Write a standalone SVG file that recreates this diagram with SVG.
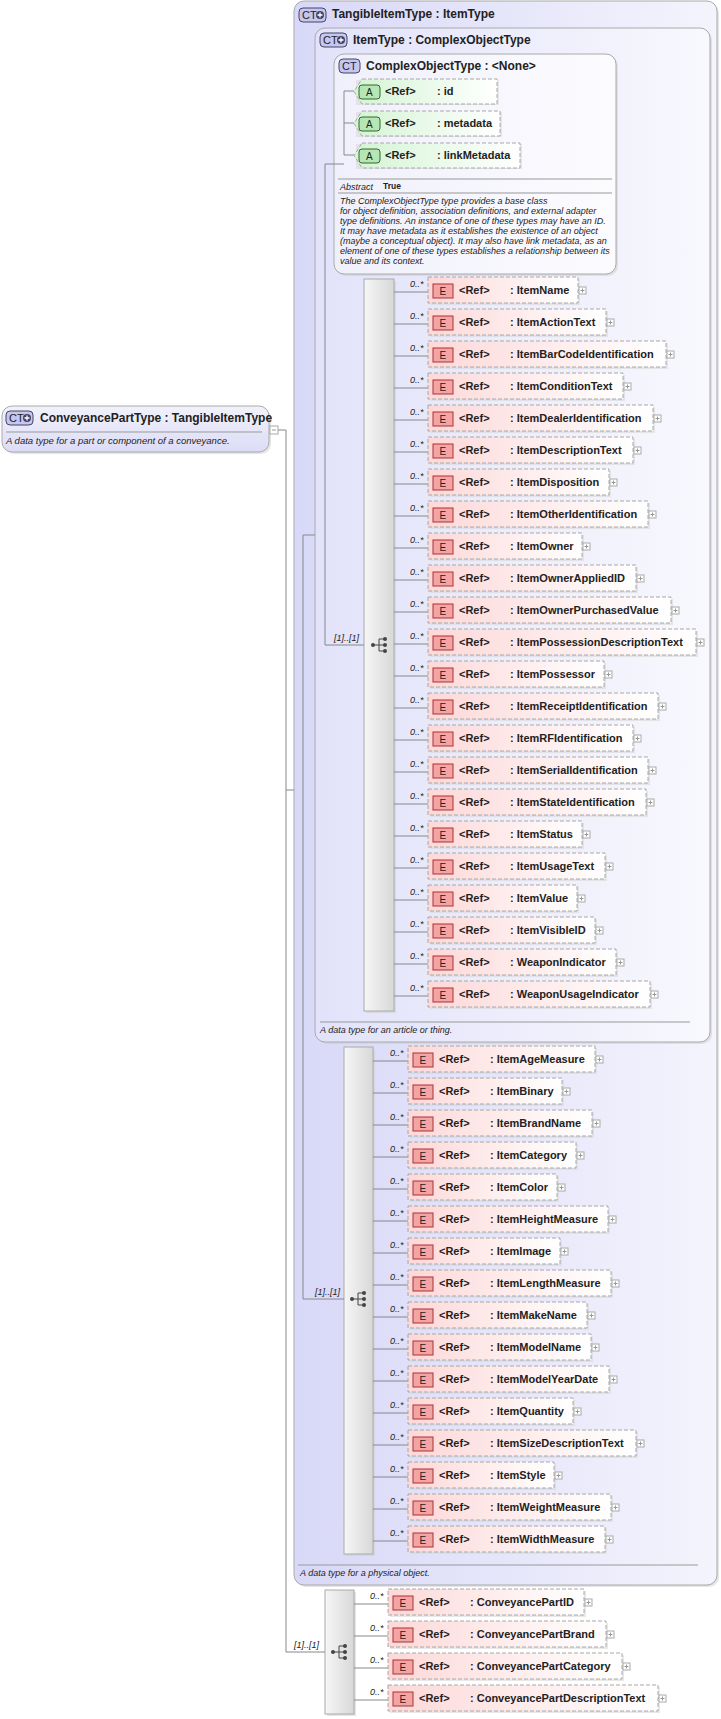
<svg xmlns="http://www.w3.org/2000/svg" width="721" height="1719" viewBox="0 0 721 1719">
<defs>
<linearGradient id="gCT" x1="0" y1="0" x2="1" y2="0"><stop offset="0" stop-color="#d8d8f8"/><stop offset="1" stop-color="#f4f4fd"/></linearGradient>
<linearGradient id="gCT2" x1="0" y1="0" x2="1" y2="0"><stop offset="0" stop-color="#e2e2fa"/><stop offset="1" stop-color="#f8f8fe"/></linearGradient>
<linearGradient id="gCO" x1="0" y1="0" x2="1" y2="0"><stop offset="0" stop-color="#f0f0fc"/><stop offset="1" stop-color="#fcfcff"/></linearGradient>
<linearGradient id="gE" x1="0" y1="0" x2="1" y2="0"><stop offset="0" stop-color="#fdd8d8"/><stop offset="1" stop-color="#ffffff"/></linearGradient>
<linearGradient id="gA" x1="0" y1="0" x2="1" y2="0"><stop offset="0" stop-color="#d4f4d4"/><stop offset="1" stop-color="#ffffff"/></linearGradient>
<linearGradient id="gS" x1="0" y1="0" x2="1" y2="0"><stop offset="0" stop-color="#f6f6f6"/><stop offset="1" stop-color="#d8d8d8"/></linearGradient>
<linearGradient id="gLeft" x1="0" y1="0" x2="0" y2="1"><stop offset="0" stop-color="#f2f2fc"/><stop offset="1" stop-color="#dcdcf6"/></linearGradient>
<g id="seqicon"><circle cx="-7" cy="0" r="2" fill="#444"/><path d="M-7 0H-1M-1-6V6M-1-6H4M-1 0H4M-1 6H4" stroke="#444" fill="none"/><circle cx="5" cy="-6" r="2" fill="#444"/><circle cx="5" cy="0" r="2" fill="#444"/><circle cx="5" cy="6" r="2" fill="#444"/></g>
<g id="ctplus"><rect x="0" y="0" width="27" height="14" rx="4" fill="#c6c6ee" stroke="#446"/><text x="3" y="11" font-size="11" fill="#224">CT</text><circle cx="21" cy="7" r="4" fill="#446"/><path d="M18.5 7H23.5M21 4.5V9.5" stroke="#fff" stroke-width="1.3"/></g>
</defs>
<style>
text{font-family:"Liberation Sans",Arial,sans-serif;fill:#222}
.t{font-size:12px;font-weight:bold}
.n{font-size:11px;font-weight:bold}
.d{font-size:9.5px;font-style:italic}
.m{font-size:9px;font-style:italic}
.ebox{fill:url(#gE);stroke:#a8a8a8;stroke-dasharray:4 2}
.abox{fill:url(#gA);stroke:#a8a8a8;stroke-dasharray:4 2}
.sh{fill:#d8d8d8;opacity:.6}
.ei{fill:#f4a4a4;stroke:#a33}
.ai{fill:#b6e6b6;stroke:#363}
.pl{fill:#fff;stroke:#aaa}
.pp{stroke:#999}
.c{stroke:#888;fill:none}
.ict{fill:#c6c6ee;stroke:#446}
.it{font-size:11px;fill:#224}
</style>

<g id="TangibleItemType">
<rect x="296" y="3" width="423" height="1584" rx="10" fill="#ccc" opacity=".5"/>
<rect x="294" y="1" width="423" height="1584" rx="10" fill="url(#gCT)" stroke="#aaa"/>
<use href="#ctplus" x="299" y="8"/>
<text x="332" y="18" class="t">TangibleItemType : ItemType</text>
<line x1="298" y1="1565" x2="698" y2="1565" stroke="#999"/>
<text x="300" y="1576" class="m">A data type for a physical object.</text>
</g>

<g id="ItemType">
<rect x="317" y="30" width="395" height="1014" rx="10" fill="#ccc" opacity=".5"/>
<rect x="315" y="28" width="395" height="1014" rx="10" fill="url(#gCT2)" stroke="#aaa"/>
<use href="#ctplus" x="320" y="33"/>
<text x="353" y="44" class="t">ItemType : ComplexObjectType</text>
<line x1="320" y1="1022" x2="690" y2="1022" stroke="#999"/>
<text x="320" y="1033" class="m">A data type for an article or thing.</text>
</g>

<g id="ComplexObjectType">
<rect x="336" y="56" width="282" height="220" rx="10" fill="#ccc" opacity=".5"/>
<rect x="334" y="54" width="282" height="220" rx="10" fill="url(#gCO)" stroke="#aaa"/>
<rect x="339" y="59" width="21" height="14" rx="4" class="ict"/><text x="342" y="70" class="it">CT</text>
<text x="366" y="70" class="t">ComplexObjectType : &lt;None&gt;</text>
<line x1="338" y1="179" x2="612" y2="179" stroke="#999"/>
<text x="340" y="190" class="m">Abstract</text><text x="383" y="189" font-size="8.5" font-weight="bold">True</text>
<line x1="338" y1="193" x2="612" y2="193" stroke="#999"/>
<text class="m"><tspan x="340" y="204">The ComplexObjectType type provides a base class</tspan><tspan x="340" y="214">for object definition, association definitions, and external adapter</tspan><tspan x="340" y="224">type definitions. An instance of one of these types may have an ID.</tspan><tspan x="340" y="234">It may have metadata as it establishes the existence of an object</tspan><tspan x="340" y="244">(maybe a conceptual object). It may also have link metadata, as an</tspan><tspan x="340" y="254">element of one of these types establishes a relationship between its</tspan><tspan x="340" y="264">value and its context.</tspan></text>
</g>

<g id="attr-id"><rect x="356" y="80" width="143" height="25" class="sh"/><path d="M362 79H497V104H362L354 91.5Z" class="abox"/><rect x="359" y="85" width="21" height="14" rx="3" class="ai"/><text x="366" y="96" font-size="10">A</text><text x="385" y="95" class="n">&lt;Ref&gt;</text><text x="437" y="95" class="n">: id</text></g>
<g id="attr-metadata"><rect x="356" y="112" width="146" height="25" class="sh"/><path d="M362 111H500V136H362L354 123.5Z" class="abox"/><rect x="359" y="117" width="21" height="14" rx="3" class="ai"/><text x="366" y="128" font-size="10">A</text><text x="385" y="127" class="n">&lt;Ref&gt;</text><text x="437" y="127" class="n">: metadata</text></g>
<g id="attr-linkMetadata"><rect x="356" y="144" width="166" height="25" class="sh"/><path d="M362 143H520V168H362L354 155.5Z" class="abox"/><rect x="359" y="149" width="21" height="14" rx="3" class="ai"/><text x="366" y="160" font-size="10">A</text><text x="385" y="159" class="n">&lt;Ref&gt;</text><text x="437" y="159" class="n">: linkMetadata</text></g>

<g id="ConveyancePartType">
<rect x="4" y="408" width="267" height="46" rx="10" fill="#ccc" opacity=".5"/>
<rect x="2" y="406" width="267" height="46" rx="10" fill="url(#gLeft)" stroke="#aaa"/>
<use href="#ctplus" x="6" y="411"/>
<text x="40" y="422" class="t">ConveyancePartType : TangibleItemType</text>
<line x1="6" y1="432" x2="262" y2="432" stroke="#999"/>
<text x="6" y="444" class="d">A data type for a part or component of a conveyance.</text>
<rect x="270" y="426" width="8" height="8" class="pl"/><path d="M272 430H276" class="pp"/>
</g>

<g id="seq1"><rect x="366" y="281" width="30" height="732" fill="#ccc" opacity=".5"/><rect x="364" y="279" width="30" height="732" fill="url(#gS)" stroke="#aaa"/><use href="#seqicon" x="380" y="645"/></g>
<g id="seq2"><rect x="346" y="1049" width="29" height="507" fill="#ccc" opacity=".5"/><rect x="344" y="1047" width="29" height="507" fill="url(#gS)" stroke="#aaa"/><use href="#seqicon" x="359" y="1299"/></g>
<g id="seq3"><rect x="327" y="1592" width="29" height="124" fill="#ccc" opacity=".5"/><rect x="325" y="1590" width="29" height="124" fill="url(#gS)" stroke="#aaa"/><use href="#seqicon" x="340" y="1652"/></g>

<g id="connectors">
<path class="c" d="M278 430H286V1652H325M286 790H294"/>
<path class="c" d="M303 535H315M303 535V1299H344"/>
<path class="c" d="M325 164H344M344 91V155M344 91H354M344 123H354M344 155H354M325 164V645H364"/>
<text x="334" y="641" class="m">[1]..[1]</text>
<text x="315" y="1295" class="m">[1]..[1]</text>
<text x="294" y="1648" class="m">[1]..[1]</text>
<path class="c" d="M394 292H428M394 324H428M394 356H428M394 388H428M394 420H428M394 452H428M394 484H428M394 516H428M394 548H428M394 580H428M394 612H428M394 644H428M394 676H428M394 708H428M394 740H428M394 772H428M394 804H428M394 836H428M394 868H428M394 900H428M394 932H428M394 964H428M394 996H428"/>
<path class="c" d="M373 1061H408M373 1093H408M373 1125H408M373 1157H408M373 1189H408M373 1221H408M373 1253H408M373 1285H408M373 1317H408M373 1349H408M373 1381H408M373 1413H408M373 1445H408M373 1477H408M373 1509H408M373 1541H408"/>
<path class="c" d="M354 1604H388M354 1636H388M354 1668H388M354 1700H388"/>
</g>

<g id="e-ItemName" transform="translate(428,277)"><rect x="2" y="2" width="150" height="26" class="sh"/><rect width="150" height="26" class="ebox"/><text x="-18" y="10" class="m">0..*</text><rect x="5" y="7" width="20" height="14" class="ei"/><text x="11.5" y="18" font-size="10">E</text><text x="31" y="17" class="n">&lt;Ref&gt;</text><text x="82" y="17" class="n">: ItemName</text><rect x="151" y="10" width="7" height="7" class="pl"/><path d="M152.5 13.5H156.5M154.5 11.5V15.5" class="pp"/></g>
<g id="e-ItemActionText" transform="translate(428,309)"><rect x="2" y="2" width="178" height="26" class="sh"/><rect width="178" height="26" class="ebox"/><text x="-18" y="10" class="m">0..*</text><rect x="5" y="7" width="20" height="14" class="ei"/><text x="11.5" y="18" font-size="10">E</text><text x="31" y="17" class="n">&lt;Ref&gt;</text><text x="82" y="17" class="n">: ItemActionText</text><rect x="179" y="10" width="7" height="7" class="pl"/><path d="M180.5 13.5H184.5M182.5 11.5V15.5" class="pp"/></g>
<g id="e-ItemBarCodeIdentification" transform="translate(428,341)"><rect x="2" y="2" width="238" height="26" class="sh"/><rect width="238" height="26" class="ebox"/><text x="-18" y="10" class="m">0..*</text><rect x="5" y="7" width="20" height="14" class="ei"/><text x="11.5" y="18" font-size="10">E</text><text x="31" y="17" class="n">&lt;Ref&gt;</text><text x="82" y="17" class="n">: ItemBarCodeIdentification</text><rect x="239" y="10" width="7" height="7" class="pl"/><path d="M240.5 13.5H244.5M242.5 11.5V15.5" class="pp"/></g>
<g id="e-ItemConditionText" transform="translate(428,373)"><rect x="2" y="2" width="195" height="26" class="sh"/><rect width="195" height="26" class="ebox"/><text x="-18" y="10" class="m">0..*</text><rect x="5" y="7" width="20" height="14" class="ei"/><text x="11.5" y="18" font-size="10">E</text><text x="31" y="17" class="n">&lt;Ref&gt;</text><text x="82" y="17" class="n">: ItemConditionText</text><rect x="196" y="10" width="7" height="7" class="pl"/><path d="M197.5 13.5H201.5M199.5 11.5V15.5" class="pp"/></g>
<g id="e-ItemDealerIdentification" transform="translate(428,405)"><rect x="2" y="2" width="225" height="26" class="sh"/><rect width="225" height="26" class="ebox"/><text x="-18" y="10" class="m">0..*</text><rect x="5" y="7" width="20" height="14" class="ei"/><text x="11.5" y="18" font-size="10">E</text><text x="31" y="17" class="n">&lt;Ref&gt;</text><text x="82" y="17" class="n">: ItemDealerIdentification</text><rect x="226" y="10" width="7" height="7" class="pl"/><path d="M227.5 13.5H231.5M229.5 11.5V15.5" class="pp"/></g>
<g id="e-ItemDescriptionText" transform="translate(428,437)"><rect x="2" y="2" width="205" height="26" class="sh"/><rect width="205" height="26" class="ebox"/><text x="-18" y="10" class="m">0..*</text><rect x="5" y="7" width="20" height="14" class="ei"/><text x="11.5" y="18" font-size="10">E</text><text x="31" y="17" class="n">&lt;Ref&gt;</text><text x="82" y="17" class="n">: ItemDescriptionText</text><rect x="206" y="10" width="7" height="7" class="pl"/><path d="M207.5 13.5H211.5M209.5 11.5V15.5" class="pp"/></g>
<g id="e-ItemDisposition" transform="translate(428,469)"><rect x="2" y="2" width="181" height="26" class="sh"/><rect width="181" height="26" class="ebox"/><text x="-18" y="10" class="m">0..*</text><rect x="5" y="7" width="20" height="14" class="ei"/><text x="11.5" y="18" font-size="10">E</text><text x="31" y="17" class="n">&lt;Ref&gt;</text><text x="82" y="17" class="n">: ItemDisposition</text><rect x="182" y="10" width="7" height="7" class="pl"/><path d="M183.5 13.5H187.5M185.5 11.5V15.5" class="pp"/></g>
<g id="e-ItemOtherIdentification" transform="translate(428,501)"><rect x="2" y="2" width="220" height="26" class="sh"/><rect width="220" height="26" class="ebox"/><text x="-18" y="10" class="m">0..*</text><rect x="5" y="7" width="20" height="14" class="ei"/><text x="11.5" y="18" font-size="10">E</text><text x="31" y="17" class="n">&lt;Ref&gt;</text><text x="82" y="17" class="n">: ItemOtherIdentification</text><rect x="221" y="10" width="7" height="7" class="pl"/><path d="M222.5 13.5H226.5M224.5 11.5V15.5" class="pp"/></g>
<g id="e-ItemOwner" transform="translate(428,533)"><rect x="2" y="2" width="154" height="26" class="sh"/><rect width="154" height="26" class="ebox"/><text x="-18" y="10" class="m">0..*</text><rect x="5" y="7" width="20" height="14" class="ei"/><text x="11.5" y="18" font-size="10">E</text><text x="31" y="17" class="n">&lt;Ref&gt;</text><text x="82" y="17" class="n">: ItemOwner</text><rect x="155" y="10" width="7" height="7" class="pl"/><path d="M156.5 13.5H160.5M158.5 11.5V15.5" class="pp"/></g>
<g id="e-ItemOwnerAppliedID" transform="translate(428,565)"><rect x="2" y="2" width="208" height="26" class="sh"/><rect width="208" height="26" class="ebox"/><text x="-18" y="10" class="m">0..*</text><rect x="5" y="7" width="20" height="14" class="ei"/><text x="11.5" y="18" font-size="10">E</text><text x="31" y="17" class="n">&lt;Ref&gt;</text><text x="82" y="17" class="n">: ItemOwnerAppliedID</text><rect x="209" y="10" width="7" height="7" class="pl"/><path d="M210.5 13.5H214.5M212.5 11.5V15.5" class="pp"/></g>
<g id="e-ItemOwnerPurchasedValue" transform="translate(428,597)"><rect x="2" y="2" width="243" height="26" class="sh"/><rect width="243" height="26" class="ebox"/><text x="-18" y="10" class="m">0..*</text><rect x="5" y="7" width="20" height="14" class="ei"/><text x="11.5" y="18" font-size="10">E</text><text x="31" y="17" class="n">&lt;Ref&gt;</text><text x="82" y="17" class="n">: ItemOwnerPurchasedValue</text><rect x="244" y="10" width="7" height="7" class="pl"/><path d="M245.5 13.5H249.5M247.5 11.5V15.5" class="pp"/></g>
<g id="e-ItemPossessionDescriptionText" transform="translate(428,629)"><rect x="2" y="2" width="268" height="26" class="sh"/><rect width="268" height="26" class="ebox"/><text x="-18" y="10" class="m">0..*</text><rect x="5" y="7" width="20" height="14" class="ei"/><text x="11.5" y="18" font-size="10">E</text><text x="31" y="17" class="n">&lt;Ref&gt;</text><text x="82" y="17" class="n">: ItemPossessionDescriptionText</text><rect x="269" y="10" width="7" height="7" class="pl"/><path d="M270.5 13.5H274.5M272.5 11.5V15.5" class="pp"/></g>
<g id="e-ItemPossessor" transform="translate(428,661)"><rect x="2" y="2" width="176" height="26" class="sh"/><rect width="176" height="26" class="ebox"/><text x="-18" y="10" class="m">0..*</text><rect x="5" y="7" width="20" height="14" class="ei"/><text x="11.5" y="18" font-size="10">E</text><text x="31" y="17" class="n">&lt;Ref&gt;</text><text x="82" y="17" class="n">: ItemPossessor</text><rect x="177" y="10" width="7" height="7" class="pl"/><path d="M178.5 13.5H182.5M180.5 11.5V15.5" class="pp"/></g>
<g id="e-ItemReceiptIdentification" transform="translate(428,693)"><rect x="2" y="2" width="230" height="26" class="sh"/><rect width="230" height="26" class="ebox"/><text x="-18" y="10" class="m">0..*</text><rect x="5" y="7" width="20" height="14" class="ei"/><text x="11.5" y="18" font-size="10">E</text><text x="31" y="17" class="n">&lt;Ref&gt;</text><text x="82" y="17" class="n">: ItemReceiptIdentification</text><rect x="231" y="10" width="7" height="7" class="pl"/><path d="M232.5 13.5H236.5M234.5 11.5V15.5" class="pp"/></g>
<g id="e-ItemRFIdentification" transform="translate(428,725)"><rect x="2" y="2" width="205" height="26" class="sh"/><rect width="205" height="26" class="ebox"/><text x="-18" y="10" class="m">0..*</text><rect x="5" y="7" width="20" height="14" class="ei"/><text x="11.5" y="18" font-size="10">E</text><text x="31" y="17" class="n">&lt;Ref&gt;</text><text x="82" y="17" class="n">: ItemRFIdentification</text><rect x="206" y="10" width="7" height="7" class="pl"/><path d="M207.5 13.5H211.5M209.5 11.5V15.5" class="pp"/></g>
<g id="e-ItemSerialIdentification" transform="translate(428,757)"><rect x="2" y="2" width="220" height="26" class="sh"/><rect width="220" height="26" class="ebox"/><text x="-18" y="10" class="m">0..*</text><rect x="5" y="7" width="20" height="14" class="ei"/><text x="11.5" y="18" font-size="10">E</text><text x="31" y="17" class="n">&lt;Ref&gt;</text><text x="82" y="17" class="n">: ItemSerialIdentification</text><rect x="221" y="10" width="7" height="7" class="pl"/><path d="M222.5 13.5H226.5M224.5 11.5V15.5" class="pp"/></g>
<g id="e-ItemStateIdentification" transform="translate(428,789)"><rect x="2" y="2" width="218" height="26" class="sh"/><rect width="218" height="26" class="ebox"/><text x="-18" y="10" class="m">0..*</text><rect x="5" y="7" width="20" height="14" class="ei"/><text x="11.5" y="18" font-size="10">E</text><text x="31" y="17" class="n">&lt;Ref&gt;</text><text x="82" y="17" class="n">: ItemStateIdentification</text><rect x="219" y="10" width="7" height="7" class="pl"/><path d="M220.5 13.5H224.5M222.5 11.5V15.5" class="pp"/></g>
<g id="e-ItemStatus" transform="translate(428,821)"><rect x="2" y="2" width="154" height="26" class="sh"/><rect width="154" height="26" class="ebox"/><text x="-18" y="10" class="m">0..*</text><rect x="5" y="7" width="20" height="14" class="ei"/><text x="11.5" y="18" font-size="10">E</text><text x="31" y="17" class="n">&lt;Ref&gt;</text><text x="82" y="17" class="n">: ItemStatus</text><rect x="155" y="10" width="7" height="7" class="pl"/><path d="M156.5 13.5H160.5M158.5 11.5V15.5" class="pp"/></g>
<g id="e-ItemUsageText" transform="translate(428,853)"><rect x="2" y="2" width="177" height="26" class="sh"/><rect width="177" height="26" class="ebox"/><text x="-18" y="10" class="m">0..*</text><rect x="5" y="7" width="20" height="14" class="ei"/><text x="11.5" y="18" font-size="10">E</text><text x="31" y="17" class="n">&lt;Ref&gt;</text><text x="82" y="17" class="n">: ItemUsageText</text><rect x="178" y="10" width="7" height="7" class="pl"/><path d="M179.5 13.5H183.5M181.5 11.5V15.5" class="pp"/></g>
<g id="e-ItemValue" transform="translate(428,885)"><rect x="2" y="2" width="149" height="26" class="sh"/><rect width="149" height="26" class="ebox"/><text x="-18" y="10" class="m">0..*</text><rect x="5" y="7" width="20" height="14" class="ei"/><text x="11.5" y="18" font-size="10">E</text><text x="31" y="17" class="n">&lt;Ref&gt;</text><text x="82" y="17" class="n">: ItemValue</text><rect x="150" y="10" width="7" height="7" class="pl"/><path d="M151.5 13.5H155.5M153.5 11.5V15.5" class="pp"/></g>
<g id="e-ItemVisibleID" transform="translate(428,917)"><rect x="2" y="2" width="167" height="26" class="sh"/><rect width="167" height="26" class="ebox"/><text x="-18" y="10" class="m">0..*</text><rect x="5" y="7" width="20" height="14" class="ei"/><text x="11.5" y="18" font-size="10">E</text><text x="31" y="17" class="n">&lt;Ref&gt;</text><text x="82" y="17" class="n">: ItemVisibleID</text><rect x="168" y="10" width="7" height="7" class="pl"/><path d="M169.5 13.5H173.5M171.5 11.5V15.5" class="pp"/></g>
<g id="e-WeaponIndicator" transform="translate(428,949)"><rect x="2" y="2" width="188" height="26" class="sh"/><rect width="188" height="26" class="ebox"/><text x="-18" y="10" class="m">0..*</text><rect x="5" y="7" width="20" height="14" class="ei"/><text x="11.5" y="18" font-size="10">E</text><text x="31" y="17" class="n">&lt;Ref&gt;</text><text x="82" y="17" class="n">: WeaponIndicator</text><rect x="189" y="10" width="7" height="7" class="pl"/><path d="M190.5 13.5H194.5M192.5 11.5V15.5" class="pp"/></g>
<g id="e-WeaponUsageIndicator" transform="translate(428,981)"><rect x="2" y="2" width="222" height="26" class="sh"/><rect width="222" height="26" class="ebox"/><text x="-18" y="10" class="m">0..*</text><rect x="5" y="7" width="20" height="14" class="ei"/><text x="11.5" y="18" font-size="10">E</text><text x="31" y="17" class="n">&lt;Ref&gt;</text><text x="82" y="17" class="n">: WeaponUsageIndicator</text><rect x="223" y="10" width="7" height="7" class="pl"/><path d="M224.5 13.5H228.5M226.5 11.5V15.5" class="pp"/></g>

<g id="e-ItemAgeMeasure" transform="translate(408,1046)"><rect x="2" y="2" width="187" height="26" class="sh"/><rect width="187" height="26" class="ebox"/><text x="-18" y="10" class="m">0..*</text><rect x="5" y="7" width="20" height="14" class="ei"/><text x="11.5" y="18" font-size="10">E</text><text x="31" y="17" class="n">&lt;Ref&gt;</text><text x="82" y="17" class="n">: ItemAgeMeasure</text><rect x="188" y="10" width="7" height="7" class="pl"/><path d="M189.5 13.5H193.5M191.5 11.5V15.5" class="pp"/></g>
<g id="e-ItemBinary" transform="translate(408,1078)"><rect x="2" y="2" width="154" height="26" class="sh"/><rect width="154" height="26" class="ebox"/><text x="-18" y="10" class="m">0..*</text><rect x="5" y="7" width="20" height="14" class="ei"/><text x="11.5" y="18" font-size="10">E</text><text x="31" y="17" class="n">&lt;Ref&gt;</text><text x="82" y="17" class="n">: ItemBinary</text><rect x="155" y="10" width="7" height="7" class="pl"/><path d="M156.5 13.5H160.5M158.5 11.5V15.5" class="pp"/></g>
<g id="e-ItemBrandName" transform="translate(408,1110)"><rect x="2" y="2" width="184" height="26" class="sh"/><rect width="184" height="26" class="ebox"/><text x="-18" y="10" class="m">0..*</text><rect x="5" y="7" width="20" height="14" class="ei"/><text x="11.5" y="18" font-size="10">E</text><text x="31" y="17" class="n">&lt;Ref&gt;</text><text x="82" y="17" class="n">: ItemBrandName</text><rect x="185" y="10" width="7" height="7" class="pl"/><path d="M186.5 13.5H190.5M188.5 11.5V15.5" class="pp"/></g>
<g id="e-ItemCategory" transform="translate(408,1142)"><rect x="2" y="2" width="168" height="26" class="sh"/><rect width="168" height="26" class="ebox"/><text x="-18" y="10" class="m">0..*</text><rect x="5" y="7" width="20" height="14" class="ei"/><text x="11.5" y="18" font-size="10">E</text><text x="31" y="17" class="n">&lt;Ref&gt;</text><text x="82" y="17" class="n">: ItemCategory</text><rect x="169" y="10" width="7" height="7" class="pl"/><path d="M170.5 13.5H174.5M172.5 11.5V15.5" class="pp"/></g>
<g id="e-ItemColor" transform="translate(408,1174)"><rect x="2" y="2" width="149" height="26" class="sh"/><rect width="149" height="26" class="ebox"/><text x="-18" y="10" class="m">0..*</text><rect x="5" y="7" width="20" height="14" class="ei"/><text x="11.5" y="18" font-size="10">E</text><text x="31" y="17" class="n">&lt;Ref&gt;</text><text x="82" y="17" class="n">: ItemColor</text><rect x="150" y="10" width="7" height="7" class="pl"/><path d="M151.5 13.5H155.5M153.5 11.5V15.5" class="pp"/></g>
<g id="e-ItemHeightMeasure" transform="translate(408,1206)"><rect x="2" y="2" width="200" height="26" class="sh"/><rect width="200" height="26" class="ebox"/><text x="-18" y="10" class="m">0..*</text><rect x="5" y="7" width="20" height="14" class="ei"/><text x="11.5" y="18" font-size="10">E</text><text x="31" y="17" class="n">&lt;Ref&gt;</text><text x="82" y="17" class="n">: ItemHeightMeasure</text><rect x="201" y="10" width="7" height="7" class="pl"/><path d="M202.5 13.5H206.5M204.5 11.5V15.5" class="pp"/></g>
<g id="e-ItemImage" transform="translate(408,1238)"><rect x="2" y="2" width="152" height="26" class="sh"/><rect width="152" height="26" class="ebox"/><text x="-18" y="10" class="m">0..*</text><rect x="5" y="7" width="20" height="14" class="ei"/><text x="11.5" y="18" font-size="10">E</text><text x="31" y="17" class="n">&lt;Ref&gt;</text><text x="82" y="17" class="n">: ItemImage</text><rect x="153" y="10" width="7" height="7" class="pl"/><path d="M154.5 13.5H158.5M156.5 11.5V15.5" class="pp"/></g>
<g id="e-ItemLengthMeasure" transform="translate(408,1270)"><rect x="2" y="2" width="203" height="26" class="sh"/><rect width="203" height="26" class="ebox"/><text x="-18" y="10" class="m">0..*</text><rect x="5" y="7" width="20" height="14" class="ei"/><text x="11.5" y="18" font-size="10">E</text><text x="31" y="17" class="n">&lt;Ref&gt;</text><text x="82" y="17" class="n">: ItemLengthMeasure</text><rect x="204" y="10" width="7" height="7" class="pl"/><path d="M205.5 13.5H209.5M207.5 11.5V15.5" class="pp"/></g>
<g id="e-ItemMakeName" transform="translate(408,1302)"><rect x="2" y="2" width="179" height="26" class="sh"/><rect width="179" height="26" class="ebox"/><text x="-18" y="10" class="m">0..*</text><rect x="5" y="7" width="20" height="14" class="ei"/><text x="11.5" y="18" font-size="10">E</text><text x="31" y="17" class="n">&lt;Ref&gt;</text><text x="82" y="17" class="n">: ItemMakeName</text><rect x="180" y="10" width="7" height="7" class="pl"/><path d="M181.5 13.5H185.5M183.5 11.5V15.5" class="pp"/></g>
<g id="e-ItemModelName" transform="translate(408,1334)"><rect x="2" y="2" width="183" height="26" class="sh"/><rect width="183" height="26" class="ebox"/><text x="-18" y="10" class="m">0..*</text><rect x="5" y="7" width="20" height="14" class="ei"/><text x="11.5" y="18" font-size="10">E</text><text x="31" y="17" class="n">&lt;Ref&gt;</text><text x="82" y="17" class="n">: ItemModelName</text><rect x="184" y="10" width="7" height="7" class="pl"/><path d="M185.5 13.5H189.5M187.5 11.5V15.5" class="pp"/></g>
<g id="e-ItemModelYearDate" transform="translate(408,1366)"><rect x="2" y="2" width="201" height="26" class="sh"/><rect width="201" height="26" class="ebox"/><text x="-18" y="10" class="m">0..*</text><rect x="5" y="7" width="20" height="14" class="ei"/><text x="11.5" y="18" font-size="10">E</text><text x="31" y="17" class="n">&lt;Ref&gt;</text><text x="82" y="17" class="n">: ItemModelYearDate</text><rect x="202" y="10" width="7" height="7" class="pl"/><path d="M203.5 13.5H207.5M205.5 11.5V15.5" class="pp"/></g>
<g id="e-ItemQuantity" transform="translate(408,1398)"><rect x="2" y="2" width="165" height="26" class="sh"/><rect width="165" height="26" class="ebox"/><text x="-18" y="10" class="m">0..*</text><rect x="5" y="7" width="20" height="14" class="ei"/><text x="11.5" y="18" font-size="10">E</text><text x="31" y="17" class="n">&lt;Ref&gt;</text><text x="82" y="17" class="n">: ItemQuantity</text><rect x="166" y="10" width="7" height="7" class="pl"/><path d="M167.5 13.5H171.5M169.5 11.5V15.5" class="pp"/></g>
<g id="e-ItemSizeDescriptionText" transform="translate(408,1430)"><rect x="2" y="2" width="228" height="26" class="sh"/><rect width="228" height="26" class="ebox"/><text x="-18" y="10" class="m">0..*</text><rect x="5" y="7" width="20" height="14" class="ei"/><text x="11.5" y="18" font-size="10">E</text><text x="31" y="17" class="n">&lt;Ref&gt;</text><text x="82" y="17" class="n">: ItemSizeDescriptionText</text><rect x="229" y="10" width="7" height="7" class="pl"/><path d="M230.5 13.5H234.5M232.5 11.5V15.5" class="pp"/></g>
<g id="e-ItemStyle" transform="translate(408,1462)"><rect x="2" y="2" width="146" height="26" class="sh"/><rect width="146" height="26" class="ebox"/><text x="-18" y="10" class="m">0..*</text><rect x="5" y="7" width="20" height="14" class="ei"/><text x="11.5" y="18" font-size="10">E</text><text x="31" y="17" class="n">&lt;Ref&gt;</text><text x="82" y="17" class="n">: ItemStyle</text><rect x="147" y="10" width="7" height="7" class="pl"/><path d="M148.5 13.5H152.5M150.5 11.5V15.5" class="pp"/></g>
<g id="e-ItemWeightMeasure" transform="translate(408,1494)"><rect x="2" y="2" width="203" height="26" class="sh"/><rect width="203" height="26" class="ebox"/><text x="-18" y="10" class="m">0..*</text><rect x="5" y="7" width="20" height="14" class="ei"/><text x="11.5" y="18" font-size="10">E</text><text x="31" y="17" class="n">&lt;Ref&gt;</text><text x="82" y="17" class="n">: ItemWeightMeasure</text><rect x="204" y="10" width="7" height="7" class="pl"/><path d="M205.5 13.5H209.5M207.5 11.5V15.5" class="pp"/></g>
<g id="e-ItemWidthMeasure" transform="translate(408,1526)"><rect x="2" y="2" width="197" height="26" class="sh"/><rect width="197" height="26" class="ebox"/><text x="-18" y="10" class="m">0..*</text><rect x="5" y="7" width="20" height="14" class="ei"/><text x="11.5" y="18" font-size="10">E</text><text x="31" y="17" class="n">&lt;Ref&gt;</text><text x="82" y="17" class="n">: ItemWidthMeasure</text><rect x="198" y="10" width="7" height="7" class="pl"/><path d="M199.5 13.5H203.5M201.5 11.5V15.5" class="pp"/></g>

<g id="e-ConveyancePartID" transform="translate(388,1589)"><rect x="2" y="2" width="196" height="26" class="sh"/><rect width="196" height="26" class="ebox"/><text x="-18" y="10" class="m">0..*</text><rect x="5" y="7" width="20" height="14" class="ei"/><text x="11.5" y="18" font-size="10">E</text><text x="31" y="17" class="n">&lt;Ref&gt;</text><text x="82" y="17" class="n">: ConveyancePartID</text><rect x="197" y="10" width="7" height="7" class="pl"/><path d="M198.5 13.5H202.5M200.5 11.5V15.5" class="pp"/></g>
<g id="e-ConveyancePartBrand" transform="translate(388,1621)"><rect x="2" y="2" width="218" height="26" class="sh"/><rect width="218" height="26" class="ebox"/><text x="-18" y="10" class="m">0..*</text><rect x="5" y="7" width="20" height="14" class="ei"/><text x="11.5" y="18" font-size="10">E</text><text x="31" y="17" class="n">&lt;Ref&gt;</text><text x="82" y="17" class="n">: ConveyancePartBrand</text><rect x="219" y="10" width="7" height="7" class="pl"/><path d="M220.5 13.5H224.5M222.5 11.5V15.5" class="pp"/></g>
<g id="e-ConveyancePartCategory" transform="translate(388,1653)"><rect x="2" y="2" width="234" height="26" class="sh"/><rect width="234" height="26" class="ebox"/><text x="-18" y="10" class="m">0..*</text><rect x="5" y="7" width="20" height="14" class="ei"/><text x="11.5" y="18" font-size="10">E</text><text x="31" y="17" class="n">&lt;Ref&gt;</text><text x="82" y="17" class="n">: ConveyancePartCategory</text><rect x="235" y="10" width="7" height="7" class="pl"/><path d="M236.5 13.5H240.5M238.5 11.5V15.5" class="pp"/></g>
<g id="e-ConveyancePartDescriptionText" transform="translate(388,1685)"><rect x="2" y="2" width="270" height="26" class="sh"/><rect width="270" height="26" class="ebox"/><text x="-18" y="10" class="m">0..*</text><rect x="5" y="7" width="20" height="14" class="ei"/><text x="11.5" y="18" font-size="10">E</text><text x="31" y="17" class="n">&lt;Ref&gt;</text><text x="82" y="17" class="n">: ConveyancePartDescriptionText</text><rect x="271" y="10" width="7" height="7" class="pl"/><path d="M272.5 13.5H276.5M274.5 11.5V15.5" class="pp"/></g>
</svg>
